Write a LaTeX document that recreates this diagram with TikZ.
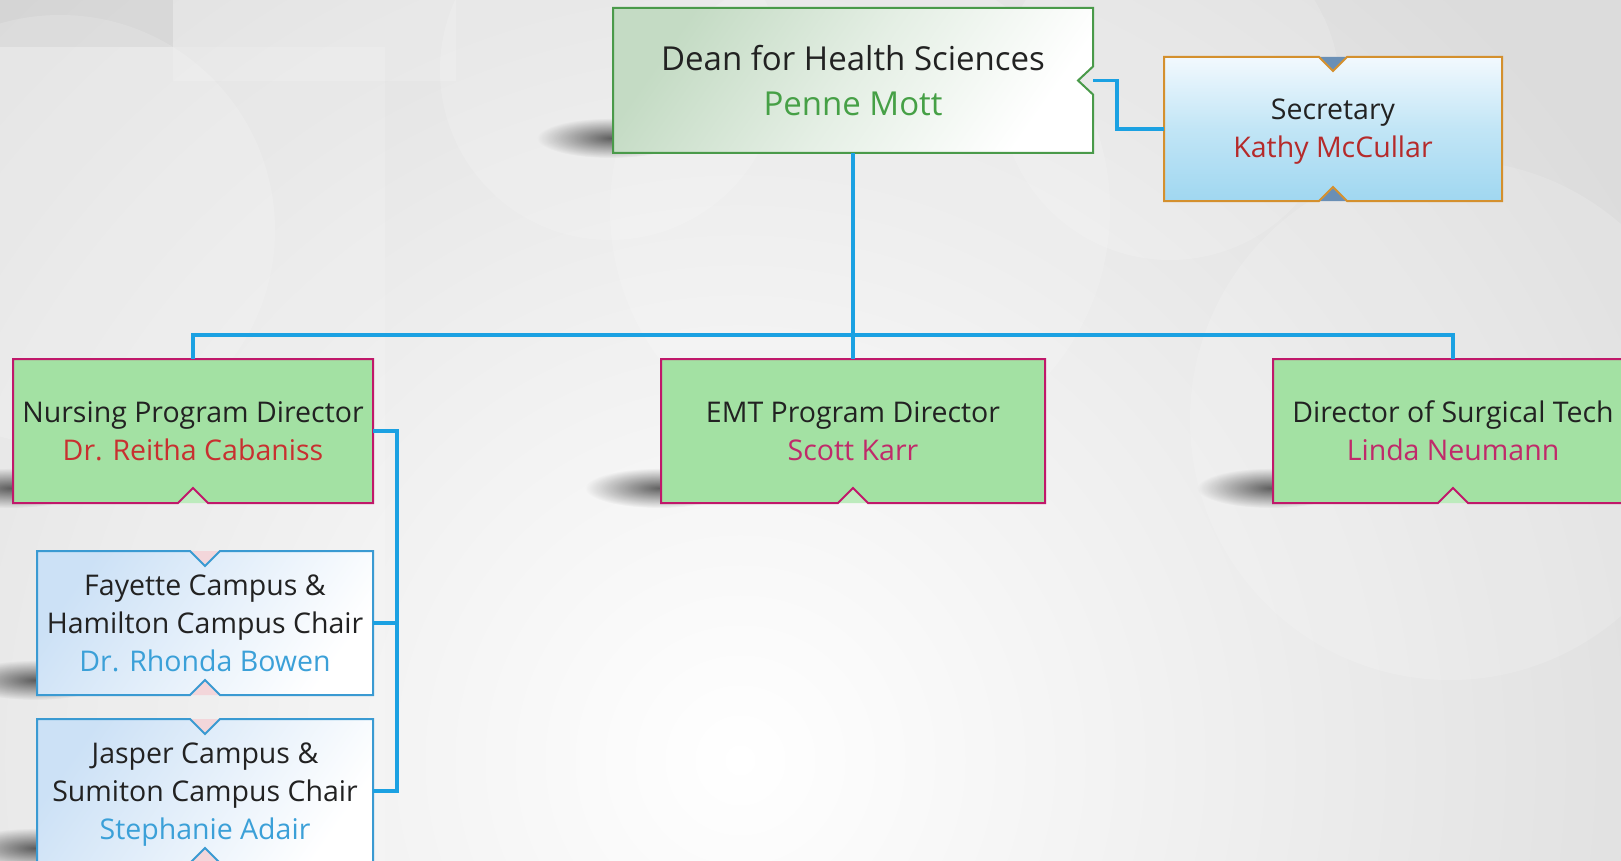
\documentclass[tikz,border=0pt]{standalone}
\usepackage{fontspec}
\setmainfont{Open Sans}
\usetikzlibrary{backgrounds,fadings,calc}
\definecolor{conn}{HTML}{1BA1E2}
\definecolor{txt}{HTML}{222222}
\definecolor{bggray}{HTML}{DCDCDC}
\definecolor{deanb}{HTML}{4A9A4A}
\definecolor{deanf}{HTML}{C4DBC4}
\definecolor{deann}{HTML}{46A046}
\definecolor{secb}{HTML}{D4902E}
\definecolor{sectop}{HTML}{F2F9FE}
\definecolor{secbot}{HTML}{8FD0EE}
\definecolor{secnotch}{HTML}{6A8FB5}
\definecolor{secn}{HTML}{B52A2A}
\definecolor{dirf}{HTML}{A3E1A3}
\definecolor{dirb}{HTML}{C0186A}
\definecolor{dirnotch}{HTML}{BDEBBD}
\definecolor{nursn}{HTML}{C83030}
\definecolor{dirn}{HTML}{C02A6A}
\definecolor{chairb}{HTML}{3A9AD2}
\definecolor{chairf}{HTML}{CCE1F6}
\definecolor{chairn}{HTML}{3BA0D8}
\definecolor{chairnotch}{HTML}{F3D6DA}
\tikzfading[name=shfade, inner color=transparent!0, outer color=transparent!100]
\tikzset{
  box/.style={inner sep=0pt, outer sep=0pt, align=center, text=txt},
  bigtext/.style={font=\fontsize{33}{45}\selectfont},
  midtext/.style={font=\fontsize{28.5}{38}\selectfont},
  link/.style={draw=conn, line width=3.4pt},
  softshadow/.style={fill=black, opacity=0.6, path fading=shfade},
  deanshape/.style={draw=deanb, line width=2pt, shading=axis, top color=deanf, bottom color=white, middle color=deanf!45, shading angle=55},
  secshape/.style={draw=secb, line width=2pt, shading=axis, top color=sectop, bottom color=secbot!85, middle color=secbot!55},
  dirshape/.style={draw=dirb, line width=2pt, fill=dirf},
  chairshape/.style={draw=chairb, line width=2pt, shading=axis, top color=chairf, bottom color=white, shading angle=55},
  deco/.style={fill=white, opacity=0.15},
}
\newcommand\shadowat[1]{\fill[softshadow] ($(#1.south west)+(-2,-15)$) ellipse (74pt and 20pt);}
\newcommand\dirpath[1]{%
  \shadowat{#1}
  \fill[dirnotch] ($(#1.south)+(14,0)$) -- ($(#1.south)+(0,-14)$) -- ($(#1.south)+(-14,0)$) -- cycle;
  \path[dirshape] (#1.north west) -- (#1.north east) -- (#1.south east) -- ($(#1.south)+(15,0)$) -- ($(#1.south)+(0,-15)$) -- ($(#1.south)+(-15,0)$) -- (#1.south west) -- cycle;}
\newcommand\chairpath[1]{%
  \shadowat{#1}
  \fill[chairnotch] ($(#1.north)+(-14,0)$) -- ($(#1.north)+(0,14)$) -- ($(#1.north)+(14,0)$) -- cycle;
  \fill[chairnotch] ($(#1.south)+(14,0)$) -- ($(#1.south)+(0,-14)$) -- ($(#1.south)+(-14,0)$) -- cycle;
  \path[chairshape] (#1.north west) -- ($(#1.north)+(-15,0)$) -- ($(#1.north)+(0,15)$) -- ($(#1.north)+(15,0)$) -- (#1.north east) -- (#1.south east) -- ($(#1.south)+(15,0)$) -- ($(#1.south)+(0,-15)$) -- ($(#1.south)+(-15,0)$) -- (#1.south west) -- cycle;}
\begin{document}
\begin{tikzpicture}[x=1pt,y=-1pt]
\useasboundingbox (0,0) rectangle (1621,861);
% nodes (text)
\node[box,bigtext,minimum width=480pt,minimum height=145pt] (dean) at (853,80.5) {Dean for Health Sciences\\\textcolor{deann}{Penne Mott}};
\node[box,midtext,minimum width=338pt,minimum height=144pt,label={[midtext,align=center,text=txt,yshift=-3pt]center:{Secretary\\\textcolor{secn}{Kathy McCullar}}}] (sec) at (1333,129) {};
\node[box,midtext,minimum width=360pt,minimum height=144pt] (nurs) at (193,431) {Nursing Program Director\\\textcolor{nursn}{Dr. Reitha Cabaniss}};
\node[box,midtext,minimum width=384pt,minimum height=144pt] (emt) at (853,431) {EMT Program Director\\\textcolor{dirn}{Scott Karr}};
\node[box,midtext,minimum width=360pt,minimum height=144pt] (surg) at (1453,431) {Director of Surgical Tech\\\textcolor{dirn}{Linda Neumann}};
\node[box,midtext,minimum width=336pt,minimum height=144pt] (fay) at (205,623) {Fayette Campus \&\\Hamilton Campus Chair\\\textcolor{chairn}{Dr. Rhonda Bowen}};
\node[box,midtext,minimum width=336pt,minimum height=144pt,label={[midtext,align=center,text=txt,yshift=-4pt]center:{Jasper Campus \&\\Sumiton Campus Chair\\\textcolor{chairn}{Stephanie Adair}}}] (jas) at (205,791) {};
\begin{pgfonlayer}{background}
  % background
  \fill[bggray] (0,0) rectangle (1621,861);
  \begin{scope}
    \clip (0,0) rectangle (1621,861);
    \shade[inner color=white, outer color=bggray] (740,760) circle (1050pt);
    \fill[black, opacity=0.03] (0,0) rectangle (173,47);
    \fill[deco] (173,0) rectangle (456,81);
    \fill[deco] (0,47) rectangle (385,861);
    \fill[deco] (60,230) circle (215pt);
    \fill[deco] (610,70) circle (170pt);
    \fill[deco] (860,210) circle (250pt);
    \fill[deco] (1170,90) circle (170pt);
    \fill[deco] (1450,420) circle (260pt);
  \end{scope}
  % dean
  \shadowat{dean}
  \path[deanshape] (dean.north west) -- (dean.north east) -- ($(dean.east)+(0,-14)$) -- ($(dean.east)+(-15,0)$) -- ($(dean.east)+(0,14)$) -- (dean.south east) -- (dean.south west) -- cycle;
  % secretary
  \fill[secnotch] ($(sec.north)+(-13,0)$) -- ($(sec.north)+(0,13)$) -- ($(sec.north)+(13,0)$) -- cycle;
  \fill[secnotch] ($(sec.south)+(13,0)$) -- ($(sec.south)+(0,-13)$) -- ($(sec.south)+(-13,0)$) -- cycle;
  \path[secshape] (sec.north west) -- ($(sec.north)+(-14,0)$) -- ($(sec.north)+(0,14)$) -- ($(sec.north)+(14,0)$) -- (sec.north east) -- (sec.south east) -- ($(sec.south)+(14,0)$) -- ($(sec.south)+(0,-14)$) -- ($(sec.south)+(-14,0)$) -- (sec.south west) -- cycle;
  % directors
  \dirpath{nurs}
  \dirpath{emt}
  \dirpath{surg}
  % chairs
  \chairpath{fay}
  \chairpath{jas}
\end{pgfonlayer}
% connectors
\coordinate (bus) at (853,335);
\coordinate (nv) at (397,431);
\draw[link] (dean.south) -- (bus);
\draw[link] (nurs.north) |- (bus) -| (surg.north);
\draw[link] (emt.north) -- (bus);
\draw[link] (dean.east) -- ++(24,0) |- (sec.west);
\draw[link] (nurs.east) -- (nv) |- (jas.east);
\draw[link] (fay.east) -- (fay.east -| nv);
\end{tikzpicture}
\end{document}
